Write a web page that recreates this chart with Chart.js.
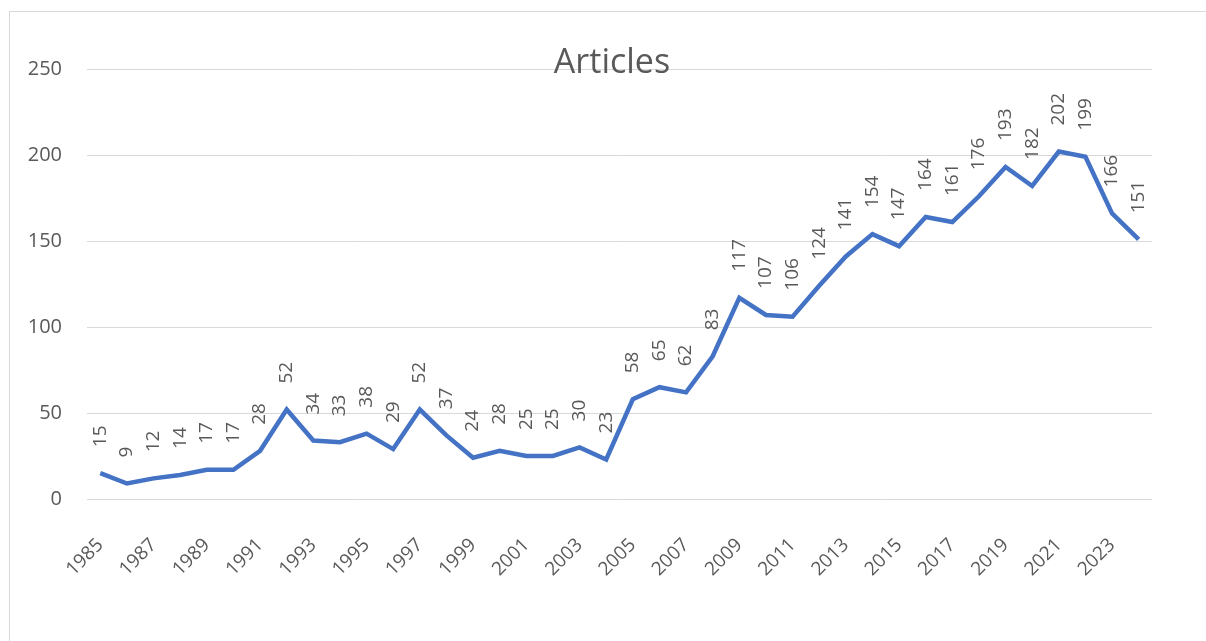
<!DOCTYPE html>
<html>
<head>
<meta charset="utf-8">
<script src="https://cdn.jsdelivr.net/npm/chart.js@4/dist/chart.umd.min.js"></script>
<style>
    html, body { margin: 0; padding: 0; background: #fff; }
    #wrap { position: relative; width: 1206px; height: 641px; overflow: hidden; }
    #frame { position: absolute; left: 9px; top: 11px; width: 1260px; height: 700px; border: 1px solid #d9d9d9; box-sizing: border-box; }
    canvas { position: absolute; left: 0; top: 0; }
</style>
</head>
<body>
<div id="wrap">
    <div id="frame"></div>
    <canvas id="articlesChart" width="1206" height="641"></canvas>
</div>
<script>
const years = [];
for (let y = 1985; y <= 2024; y++) years.push(String(y));

const articles = [15, 9, 12, 14, 17, 17, 28, 52, 34, 33, 38, 29, 52, 37, 24, 28, 25, 25, 30, 23,
    58, 65, 62, 83, 117, 107, 106, 124, 141, 154, 147, 164, 161, 176, 193, 182, 202, 199, 166, 151];

const yTicks = [0, 50, 100, 150, 200, 250];

const textColor = '#595959';
const fontFamily = 'Open Sans, Lato, sans-serif';

// Title sits over the top of the plot area, like the original
const titlePlugin = {
    id: 'overlayTitle',
    afterDraw(chart) {
        const ctx = chart.ctx;
        ctx.save();
        ctx.font = '34px ' + fontFamily;
        ctx.fillStyle = textColor;
        ctx.textAlign = 'center';
        ctx.textBaseline = 'alphabetic';
        ctx.fillText('Articles', 612, 73);
        ctx.restore();
    }
};

// Vertical value labels above every point
const valueLabels = {
    id: 'valueLabels',
    afterDatasetsDraw(chart) {
        const ctx = chart.ctx;
        const meta = chart.getDatasetMeta(0);
        const data = chart.data.datasets[0].data;
        ctx.save();
        ctx.font = '19px ' + fontFamily;
        ctx.fillStyle = textColor;
        ctx.textAlign = 'left';
        ctx.textBaseline = 'middle';
        meta.data.forEach(function(pt, i) {
            ctx.save();
            ctx.translate(pt.x, pt.y - 26);
            ctx.rotate(-Math.PI / 2);
            ctx.fillText(String(data[i]), 0, 0);
            ctx.restore();
        });
        ctx.restore();
    }
};

const ctx = document.getElementById('articlesChart').getContext('2d');
new Chart(ctx, {
    type: 'line',
    data: {
        labels: years,
        datasets: [{
            label: 'Articles',
            data: articles,
            borderColor: '#4472C4',
            borderWidth: 4.5,
            pointRadius: 0,
            tension: 0,
            fill: false
        }]
    },
    options: {
        responsive: false,
        animation: false,
        layout: { padding: { left: 0, right: 54, top: 69, bottom: 0 } },
        plugins: {
            legend: { display: false },
            title: { display: false },
            tooltip: { enabled: false }
        },
        scales: {
            x: {
                offset: true,
                grid: { display: false },
                border: { display: false },
                ticks: {
                    autoSkip: false,
                    maxRotation: 45,
                    minRotation: 45,
                    padding: 27,
                    color: textColor,
                    font: { family: fontFamily, size: 19 },
                    callback: function(val, idx) {
                        return idx % 2 === 0 ? years[idx] : '';
                    }
                },
                afterFit: function(scale) { scale.height = 142; }
            },
            y: {
                min: 0,
                max: 250,
                afterBuildTicks: function(scale) {
                    scale.ticks = yTicks.map(function(v) { return { value: v }; });
                },
                grid: { color: '#d9d9d9', lineWidth: 1, drawTicks: false },
                border: { display: false },
                ticks: {
                    padding: 25,
                    color: textColor,
                    font: { family: fontFamily, size: 20 }
                },
                afterFit: function(scale) { scale.width = 87; }
            }
        }
    },
    plugins: [titlePlugin, valueLabels]
});
</script>
</body>
</html>
